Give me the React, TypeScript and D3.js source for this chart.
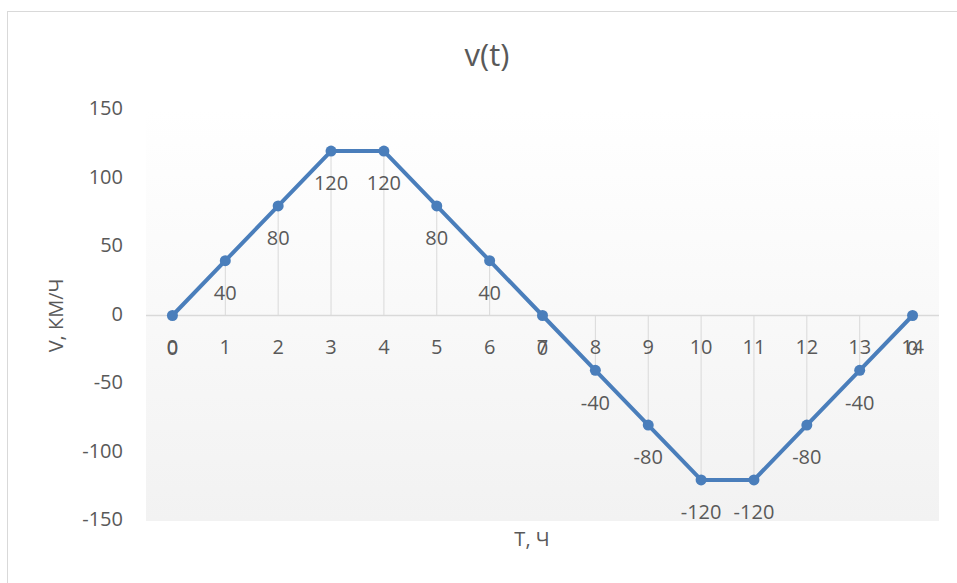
import React from "react";
import * as d3 from "d3";

const categories = ["0","1","2","3","4","5","6","7","8","9","10","11","12","13","14"];
const values = [0, 40, 80, 120, 120, 80, 40, 0, -40, -80, -120, -120, -80, -40, 0];
const yTicks = [150, 100, 50, 0, -50, -100, -150];
const title = "v(t)";
const xTitle = "Т, Ч";
const yTitle = "V, КМ/Ч";

const W = 957, H = 583;
const plot = { left: 146, right: 939, top: 110, bottom: 521 };
const font = "'Open Sans', 'Noto Sans', sans-serif";
const textColor = "#595959";
const lineColor = "#4a7ebb";
const fs = 20;

export default function App() {
  const x = d3.scaleBand<string>().domain(categories).range([plot.left, plot.right]);
  const y = d3.scaleLinear().domain([-150, 150]).range([plot.bottom, plot.top]);
  const cx = (i: number) => (x(categories[i]) as number) + x.bandwidth() / 2;
  const line = d3.line<number>().x((_, i) => cx(i)).y((d) => y(d));
  const y0 = y(0);

  return (
    <svg width={W} height={H} style={{ position: "absolute", left: 0, top: 0 }}>
      <defs>
        <linearGradient id="pg" x1="0" y1="0" x2="0" y2="1">
          <stop offset="0" stopColor="#ffffff" />
          <stop offset="1" stopColor="#f2f2f2" />
        </linearGradient>
      </defs>
      <rect x={0} y={0} width={W} height={H} fill="#fff" />
      <rect x={7.5} y={11.5} width={W + 10} height={H + 10} fill="#fff" stroke="#d9d9d9" strokeWidth={1} />
      <rect x={plot.left} y={plot.top} width={plot.right - plot.left} height={plot.bottom - plot.top} fill="url(#pg)" />
      <text x={487} y={58} textAnchor="middle" dominantBaseline="middle" fontFamily={font} fontSize={31} fill={textColor}>{title}</text>
      {yTicks.map((t) => (
        <text key={t} x={123} y={y(t)} textAnchor="end" dominantBaseline="middle" fontFamily={font} fontSize={fs} fill={textColor}>{t}</text>
      ))}
      {values.map((v, i) => (
        <line key={"d" + i} x1={cx(i)} x2={cx(i)} y1={y(v)} y2={y0} stroke="#d9d9d9" strokeWidth={1} />
      ))}
      <line x1={plot.left} x2={plot.right} y1={y0} y2={y0} stroke="#d9d9d9" strokeWidth={1.5} />
      {categories.map((c, i) => (
        <text key={"c" + i} x={cx(i)} y={y0 + 33} textAnchor="middle" dominantBaseline="middle" fontFamily={font} fontSize={fs} fill={textColor}>{c}</text>
      ))}
      <path d={line(values) || ""} fill="none" stroke={lineColor} strokeWidth={4} strokeLinejoin="round" />
      {values.map((v, i) => (
        <circle key={"m" + i} cx={cx(i)} cy={y(v)} r={5.5} fill={lineColor} />
      ))}
      {values.map((v, i) => (
        <text key={"l" + i} x={cx(i)} y={y(v) + 34} textAnchor="middle" dominantBaseline="middle" fontFamily={font} fontSize={fs} fill={textColor}>{v}</text>
      ))}
      <text x={532} y={541} textAnchor="middle" dominantBaseline="middle" fontFamily={font} fontSize={fs} fill={textColor}>{xTitle}</text>
      <text transform={`translate(58,${y0}) rotate(-90)`} textAnchor="middle" dominantBaseline="middle" fontFamily={font} fontSize={fs} fill={textColor}>{yTitle}</text>
    </svg>
  );
}
